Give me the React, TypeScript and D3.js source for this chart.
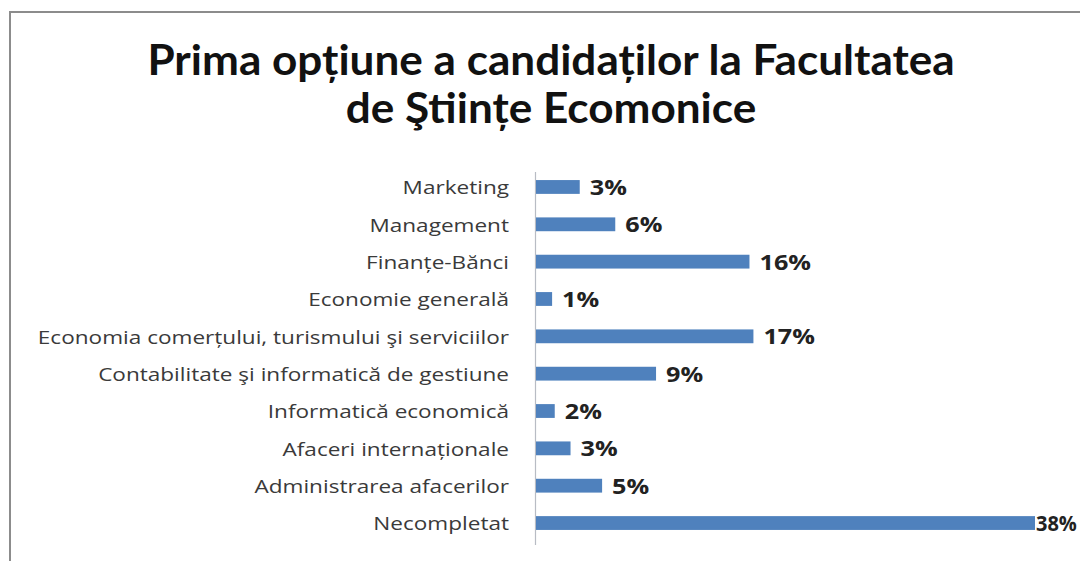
import React from "react";
import * as d3 from "d3";

const titleLines = ["Prima opțiune a candidaților la Facultatea", "de Ştiințe Ecomonice"];
const categories = [
  "Marketing",
  "Management",
  "Finanțe-Bănci",
  "Economie generală",
  "Economia comerțului, turismului şi serviciilor",
  "Contabilitate şi informatică de gestiune",
  "Informatică economică",
  "Afaceri internaționale",
  "Administrarea afacerilor",
  "Necompletat",
];
const values = [3.4, 6.1, 16.3, 1.3, 16.6, 9.2, 1.5, 2.7, 5.1, 38];
const valueLabels = ["3%", "6%", "16%", "1%", "17%", "9%", "2%", "3%", "5%", "38%"];

const W = 1080;
const H = 561;
const TITLE_FONT = "Lato, sans-serif";
const FONT = "'Open Sans', sans-serif";
const VAL_SX = 1.2;
const VAL_FS = 21;

export default function App() {
  const x = d3.scaleLinear().domain([0, 38]).range([535, 1035]);
  const y = d3
    .scaleBand<string>()
    .domain(categories)
    .range([168.3, 541.7])
    .paddingInner(0.63)
    .paddingOuter(0.315);

  return (
    <svg
      width={W}
      height={H}
      style={{ position: "fixed", left: 0, top: 0, background: "#fff" }}
    >
      <rect x={0} y={0} width={W} height={H} fill="#fff" />
      <rect x={10} y={12} width={W + 20} height={H + 20} fill="none" stroke="#8c8c8c" strokeWidth={2} />
      {titleLines.map((t, i) => (
        <text
          key={i}
          transform={`translate(551,${75 + i * 48}) scale(1.05,1)`}
          textAnchor="middle"
          fontFamily={TITLE_FONT}
          fontWeight="bold"
          fontSize={42}
          fill="#111"
        >
          {t}
        </text>
      ))}
      <line x1={535.5} x2={535.5} y1={172} y2={545} stroke="#b8bcc4" strokeWidth={1.2} />
      {categories.map((c, i) => {
        const yc = (y(c) as number) + y.bandwidth() / 2;
        const em = valueLabels[i].length === 3 ? 2.0 : 1.4;
        const natural = em * VAL_FS;
        let lx = x(values[i]) + 10;
        let sx = VAL_SX;
        if (lx + natural * sx > W - 4) {
          lx = x(values[i]) + 1;
          sx = Math.min(VAL_SX, (W - 4 - lx) / natural);
        }
        return (
          <g key={c}>
            <rect
              x={x(0) + 1}
              y={y(c)}
              width={x(values[i]) - x(0) - 1}
              height={y.bandwidth()}
              fill="#4f81bd"
            />
            <text
              transform={`translate(509,${yc}) scale(1.22,1)`}
              dy="0.4em"
              textAnchor="end"
              fontFamily={FONT}
              fontSize={18.5}
              fill="#3a3a3a"
            >
              {c}
            </text>
            <text
              transform={`translate(${lx},${yc}) scale(${sx},1)`}
              dy="0.38em"
              fontFamily={FONT}
              fontWeight="bold"
              fontSize={VAL_FS}
              fill="#222"
            >
              {valueLabels[i]}
            </text>
          </g>
        );
      })}
    </svg>
  );
}
